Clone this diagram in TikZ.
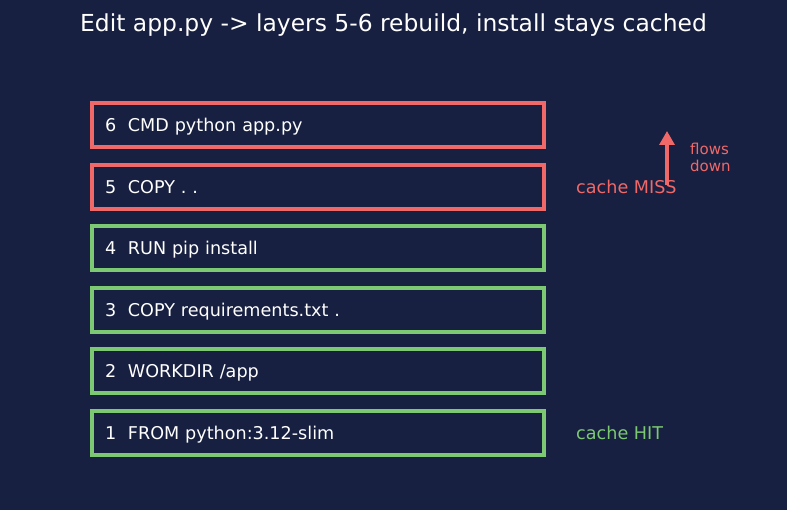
\documentclass[tikz,border=0pt]{standalone}
\usepackage{fontspec}
\setmainfont{DejaVu Sans}
\usetikzlibrary{arrows.meta,positioning}
\definecolor{bgnavy}{RGB}{23,32,64}
\definecolor{missred}{RGB}{240,104,104}
\definecolor{hitgreen}{RGB}{125,200,115}

\begin{document}
\begin{tikzpicture}[x=1pt,y=-1pt,
		layer/.style={draw=#1,line width=4pt,minimum width=452pt,minimum height=44pt,text width=426pt,inner xsep=13pt,inner ysep=0pt,align=left,text=white,text height=16pt,text depth=2.9pt,font=\fontsize{17.6}{20}\selectfont},
		cachelabel/.style={right=30pt of #1,inner sep=0pt,text height=16pt,text depth=2.9pt,font=\fontsize{17.6}{20}\selectfont}]
			\fill[bgnavy] (0,0) rectangle (787,510);
			\node[text=white,font=\fontsize{23.4}{28}\selectfont] (title) at (393.5,25) {Edit app.py -> layers 5-6 rebuild, install stays cached};
			% layers, top to bottom
			\foreach \n/\cmd/\col in {6/{CMD python app.py}/missred,5/{COPY . .}/missred,4/{RUN pip install}/hitgreen,3/{COPY requirements.txt .}/hitgreen,2/{WORKDIR /app}/hitgreen,1/{FROM python:3.12-slim}/hitgreen}
				\node[layer=\col] (layer\n) at (318,{125+(6-\n)*61.6}) {\n\ \ \cmd};
			\node[cachelabel=layer5,text=missred] (missLabel) {cache MISS};
			\node[cachelabel=layer1,text=hitgreen] (hitLabel) {cache HIT};
			% direction hint
			\coordinate (flowBot) at (667,185);
			\coordinate (flowTop) at (667,131);
			\draw[-{Triangle[length=14pt,width=15pt]},line width=3.2pt,missred] (flowBot) -- (flowTop);
			\node[anchor=north west,inner sep=0pt,align=left,text=missred,font=\fontsize{15}{17}\selectfont] (flowNote) at (690,143) {flows\\down};
		\end{tikzpicture}
\end{document}
